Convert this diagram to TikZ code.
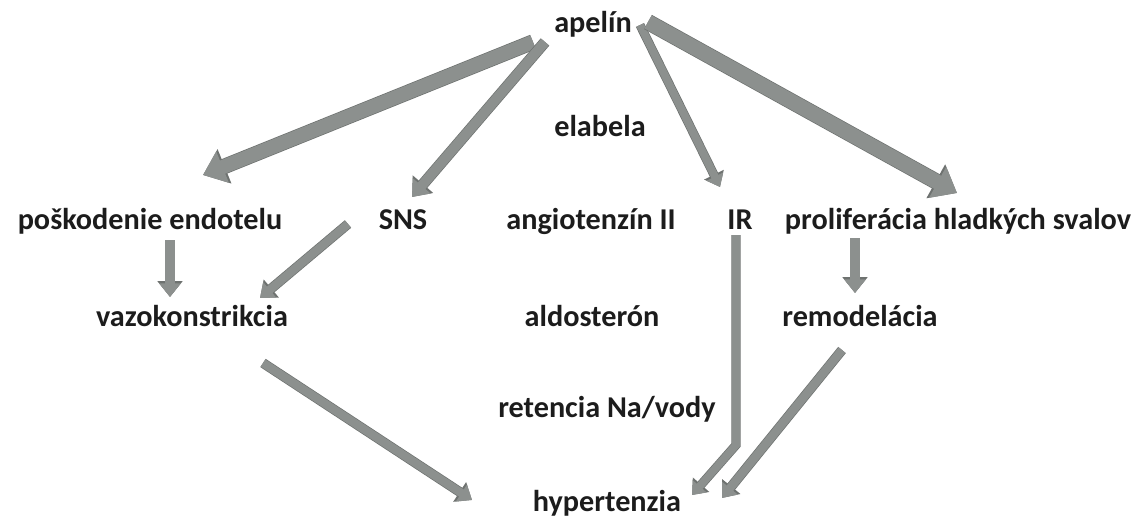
\documentclass[tikz,border=0pt]{standalone}
\usepackage{fontspec}
\setmainfont{Carlito}
\usetikzlibrary{arrows.meta,calc}
\definecolor{arrowgray}{HTML}{8C908E}
\definecolor{arrowedge}{HTML}{6E7270}
\definecolor{textdark}{HTML}{1C1C1C}
\tikzset{
  lbl/.style={anchor=base, inner sep=0pt, font=\bfseries\fontsize{21.5}{25}\selectfont, text=textdark},
  fat/.style={line width=#1, draw=arrowgray, -{Triangle[length=0pt 1.5, width=0pt 2.3]},
    preaction={draw=arrowedge, line width=#1+1pt, -{Triangle[length=0pt 1.5, width=0pt 2.3]}}},
}
\begin{document}
\begin{tikzpicture}[x=0.025cm, y=-0.025cm]
\useasboundingbox (0,0) rectangle (1148,519);
\node[lbl] (apelin) at (593,33) {apelín};
\node[lbl] (elabela) at (600,136) {elabela};
\node[lbl] (posk) at (150,229) {poškodenie endotelu};
\node[lbl] (sns) at (403,229) {SNS};
\node[lbl] (angio) at (591,229) {angiotenzín II};
\node[lbl] (ir) at (740,229) {IR};
\node[lbl] (prolif) at (958,229) {proliferácia hladkých svalov};
\node[lbl] (vazo) at (192,326) {vazokonstrikcia};
\node[lbl] (aldo) at (592,326) {aldosterón};
\node[lbl] (remod) at (860,326) {remodelácia};
\node[lbl] (reten) at (607,417) {retencia Na/vody};
\node[lbl] (hyper) at (607,511) {hypertenzia};

\draw[fat=10pt] ($(apelin.base)+(-60,9)$) -- ($(posk.base)+(53,-54)$);
\draw[fat=7pt] ($(apelin.base)+(-48,9)$) -- ($(sns.base)+(9,-32)$);
\draw[fat=5.5pt] ($(apelin.base)+(47,-8)$) -- ($(ir.base)+(-20,-42)$);
\draw[fat=10.5pt] ($(apelin.base)+(55,-11)$) -- ($(prolif.base)+(-1,-36)$);
\draw[fat=6.5pt] ($(posk.base)+(20,11)$) -- ($(vazo.base)+(-22,-29)$);
\draw[fat=6pt] ($(sns.base)+(-55,-5)$) -- ($(vazo.base)+(68,-28)$);
\draw[fat=6.5pt] ($(prolif.base)+(-103,9)$) -- ($(remod.base)+(-5,-33)$);
\draw[fat=5.5pt] ($(ir.base)+(-4,6)$) -- ($(ir.base)+(-4,216)$) -- ($(hyper.base)+(85,-16)$);
\draw[fat=6pt] ($(remod.base)+(-18,24)$) -- ($(hyper.base)+(115,-13)$);
\draw[fat=6pt] ($(vazo.base)+(71,37)$) -- ($(hyper.base)+(-135,-11)$);
\end{tikzpicture}
\end{document}
